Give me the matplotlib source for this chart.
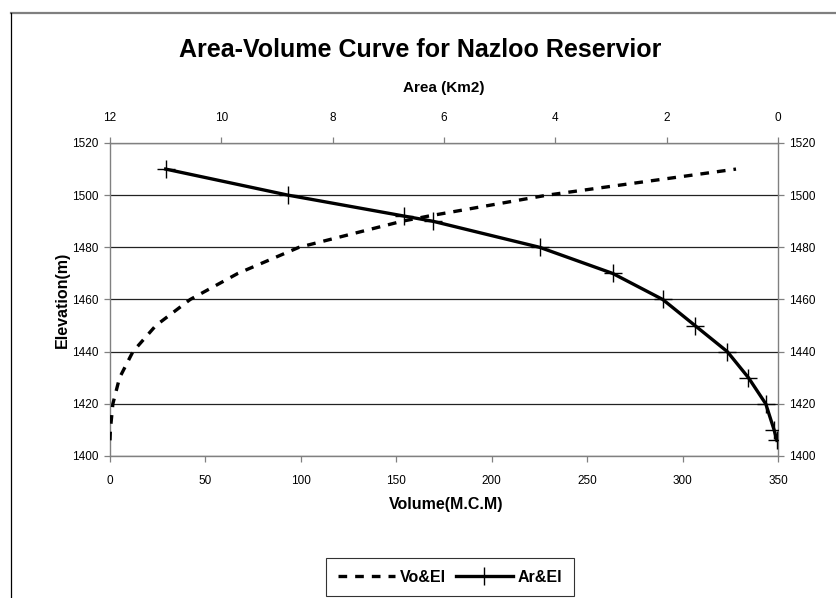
import matplotlib
matplotlib.use('Agg')
import matplotlib.pyplot as plt
from matplotlib.lines import Line2D
from matplotlib import font_manager

# ---- data ----
elevation_vol = [1406, 1410, 1420, 1430, 1440, 1450, 1460, 1470, 1480, 1490, 1492, 1500, 1510]
volume = [0, 0.2, 1.5, 5, 12, 24, 42, 67, 99, 153, 167, 229, 328]

elevation_area = [1406, 1410, 1420, 1430, 1440, 1450, 1460, 1470, 1480, 1490, 1492, 1500, 1510]
area = [0.02, 0.07, 0.22, 0.53, 0.91, 1.49, 2.07, 2.97, 4.28, 6.20, 6.72, 8.80, 11.0]

volume_ticks = [0, 50, 100, 150, 200, 250, 300, 350]
area_ticks = [12, 10, 8, 6, 4, 2, 0]
elev_ticks = [1400, 1420, 1440, 1460, 1480, 1500, 1520]

title = "Area-Volume Curve for Nazloo Reservior"
labels = ["Vo&El", "Ar&El"]

plt.rcParams['font.family'] = ['Liberation Sans', 'DejaVu Sans']
names = {f.name for f in font_manager.fontManager.ttflist}
tick_family = ['Liberation Sans Narrow', 'Liberation Sans'] if 'Liberation Sans Narrow' in names else ['Liberation Sans']
tick_size = 9.5 if 'Liberation Sans Narrow' in names else 8.5

W, H = 837, 598
fig = plt.figure(figsize=(W / 100, H / 100), dpi=100)
fig.patch.set_facecolor('white')

def fx(px):
    return px / W

def fy(py):
    return 1 - py / H

# outer frame lines
fig.add_artist(Line2D([fx(11), fx(837)], [fy(13), fy(13)], color='#7f7f7f', lw=1.6))
fig.add_artist(Line2D([fx(11), fx(11)], [fy(13), fy(598)], color='black', lw=0.9))

L, R, T, B = 110, 778, 143, 456
ax = fig.add_axes([fx(L), fy(B), (R - L) / W, (B - T) / H])
ax.set_xlim(0, 350)
ax.set_ylim(1400, 1520)
ax.set_xticks(volume_ticks)
ax.set_yticks(elev_ticks)
ax.yaxis.grid(True, color='#222222', lw=0.9)
ax.set_axisbelow(True)
for s in ['left', 'right', 'bottom', 'top']:
    ax.spines[s].set_color('#808080')
    ax.spines[s].set_linewidth(1.0)
ax.tick_params(axis='both', direction='out', length=4, width=0.9, color='#808080',
               labelsize=tick_size, pad=4)
ax.tick_params(axis='x', pad=10)
ax.tick_params(axis='y', right=True, labelright=True)

DASH = [2.6, 2.4]
vol_line, = ax.plot(volume, elevation_vol, color='black', lw=2.4, zorder=3,
                    solid_capstyle='butt', dash_capstyle='butt')
vol_line.set_dashes(DASH)

ax2 = ax.twiny()
ax2.set_xlim(12, 0)
ax2.set_xticks(area_ticks)
ax2.tick_params(axis='x', direction='out', length=4, width=0.9, color='#808080',
                labelsize=tick_size, pad=10)
for s in ['left', 'right', 'bottom', 'top']:
    ax2.spines[s].set_visible(False)
area_line, = ax2.plot(area, elevation_area, color='black', lw=2.4, marker='+',
                      markersize=13, markeredgewidth=1.0, zorder=4)

for a in (ax, ax2):
    for lab in a.get_xticklabels() + a.get_yticklabels():
        lab.set_family(tick_family)

# titles / axis labels
fig.text(fx(420), fy(50), title, ha='center', va='center', fontsize=18, fontweight='bold')
fig.text(fx(444), fy(88), "Area (Km2)", ha='center', va='center', fontsize=11, fontweight='bold')
fig.text(fx(446), fy(505), "Volume(M.C.M)", ha='center', va='center', fontsize=11.5, fontweight='bold')
fig.text(fx(62), fy(300), "Elevation(m)", ha='center', va='center', rotation=90,
         fontsize=11.5, fontweight='bold')

h1 = Line2D([], [], color='black', lw=2.4, dashes=DASH, dash_capstyle='butt')
h2 = Line2D([], [], color='black', lw=2.4, marker='+', markersize=13, markeredgewidth=1.0)
leg = fig.legend([h1, h2], labels, loc='center', bbox_to_anchor=(fx(450), fy(577)),
                 ncol=2, frameon=True, fancybox=False, shadow=False, edgecolor='black',
                 prop={'weight': 'bold', 'size': 11.5}, handlelength=3.6,
                 handletextpad=0.3, columnspacing=0.6, borderpad=0.7, borderaxespad=0)
leg.get_frame().set_linewidth(0.8)

fig.savefig('out.png', dpi=100, facecolor='white')
